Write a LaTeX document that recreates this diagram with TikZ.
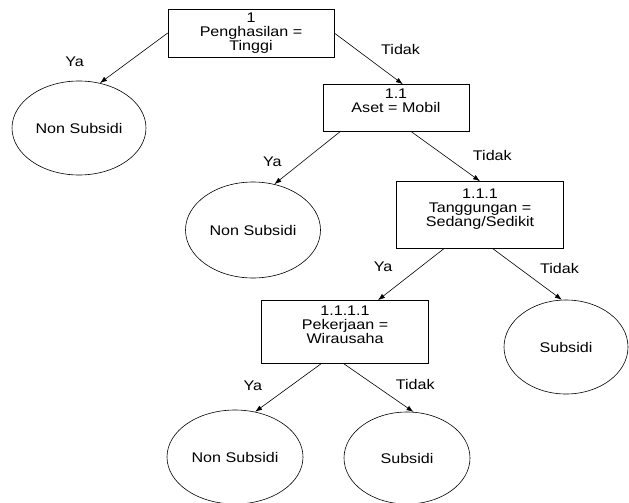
\documentclass[tikz,border=0pt]{standalone}
\usepackage{fontspec}
\setmainfont{Liberation Sans}[FakeStretch=1.15]
\usetikzlibrary{shapes.geometric,positioning,arrows.meta}

\begin{document}
\begin{tikzpicture}[>={Latex[length=7pt,width=5pt]}, line width=0.6pt, font=\fontsize{14}{14}\selectfont,
    test/.style={draw, rectangle, align=center, inner sep=0pt, on grid},
    leaf/.style={draw, ellipse, inner sep=0pt, on grid},
    lbl/.style={inner sep=0pt}]
    \useasboundingbox (0pt,0pt) rectangle (629pt,-503pt);
    \node[test, minimum width=166pt, minimum height=48pt] (penghasilan) at (251pt,-33pt) {1\\Penghasilan =\\Tinggi};
    \node[leaf, minimum width=134pt, minimum height=94pt] (nonsub1) [below left=95pt and 172pt of penghasilan] {Non Subsidi};
    \node[test, minimum width=146pt, minimum height=47pt] (aset) [below right=75pt and 145pt of penghasilan] {1.1\\Aset = Mobil\\[0pt]};
    \node[leaf, minimum width=135pt, minimum height=96pt] (nonsub2) [below left=122pt and 143pt of aset] {Non Subsidi};
    \node[test, minimum width=167pt, minimum height=67pt] (tanggungan) [below right=107pt and 84pt of aset] {1.1.1\\Tanggungan =\\Sedang/Sedikit\\[0pt]};
    \node[leaf, minimum width=124pt, minimum height=94pt] (subsidi1) [below right=132pt and 86pt of tanggungan] {Subsidi};
    \node[test, minimum width=167pt, minimum height=63pt] (pekerjaan) [below left=117pt and 135pt of tanggungan] {1.1.1.1\\Pekerjaan =\\Wirausaha\\[0pt]};
    \node[leaf, minimum width=136pt, minimum height=94pt] (nonsub3) [below left=125pt and 110pt of pekerjaan] {Non Subsidi};
    \node[leaf, minimum width=126pt, minimum height=92pt] (subsidi2) [below right=126pt and 62pt of pekerjaan] {Subsidi};

    \path[->]
    (penghasilan.west) edge node[lbl, pos=.57, left=45pt] {Ya} (nonsub1.65)
    (penghasilan.east) edge node[lbl, pos=.33, right=24pt] {Tidak} (aset.74)
    (aset.203) edge node[lbl, pos=.58, left=20pt] {Ya} (nonsub2.65)
    (aset.303) edge node[lbl, pos=.47, right=29pt] {Tidak} (tanggungan.north)
    (tanggungan.223) edge node[lbl, pos=.35, left=28pt] {Ya} (pekerjaan.44)
    (tanggungan.291) edge node[lbl, pos=.39, right=20pt] {Tidak} (subsidi1.95)
    (pekerjaan.233) edge node[lbl, pos=.45, left=29pt] {Ya} (nonsub3.66)
    (pekerjaan.268) edge node[lbl, pos=.44, right=21pt] {Tidak} (subsidi2.82);
\end{tikzpicture}
\end{document}
